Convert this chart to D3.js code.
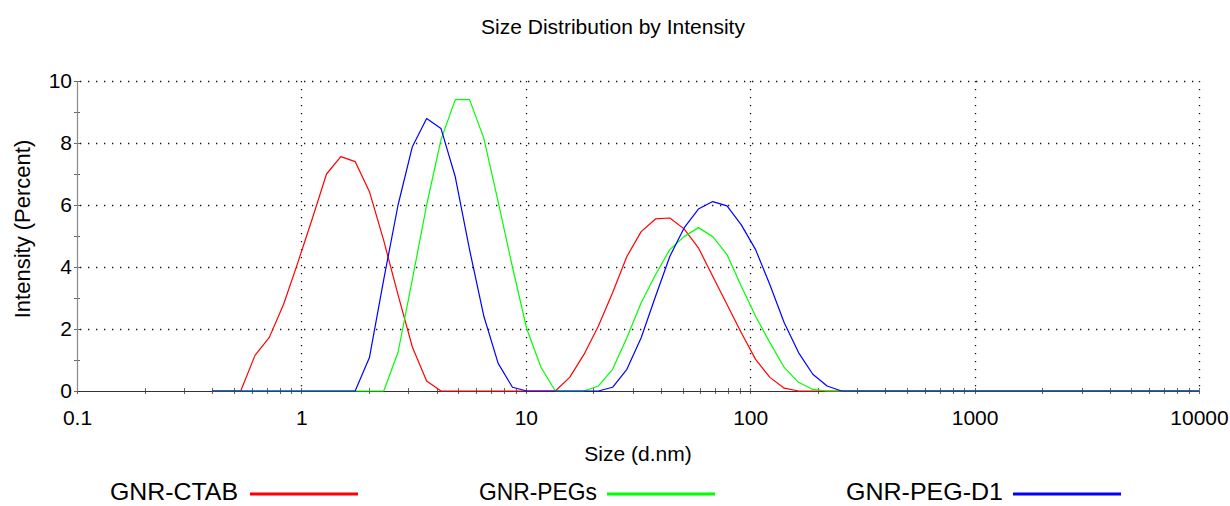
<!DOCTYPE html>
<html>
<head>
<meta charset="utf-8">
<script src="https://cdn.jsdelivr.net/npm/d3@7"></script>
<style>
  html, body { margin: 0; padding: 0; background: #fff; }
  svg { display: block; }
  text { font-family: 'Liberation Sans', Arial, sans-serif; fill: #000; }
</style>
</head>
<body>
<div id="chart"></div>
<script>
// size classes (d.nm), log spaced
const sizes = [
  0.4, 0.4632, 0.5365, 0.6213, 0.7195, 0.8332, 0.9649, 1.117, 1.294, 1.499,
  1.736, 2.01, 2.328, 2.696, 3.122, 3.615, 4.187, 4.849, 5.615, 6.503,
  7.531, 8.721, 10.1, 11.7, 13.54, 15.69, 18.17, 21.04, 24.36, 28.21,
  32.67, 37.84, 43.82, 50.75, 58.77, 68.06, 78.82, 91.28, 105.7, 122.4,
  141.8, 164.2, 190.1, 220.2, 255.0, 295.3, 342.0, 396.1, 458.7, 531.2,
  615.1, 712.4, 825.0, 955.4, 1106, 1281, 1484, 1718, 1990, 2305,
  2669, 3091, 3580, 4145, 4801, 5560, 6439, 7456, 8635, 10000
];

// intensity (%) per size class
const ctab = [
  0, 0, 0, 1.15, 1.73, 2.8, 4.15, 5.55, 7.0, 7.56,
  7.4, 6.43, 4.85, 3.1, 1.42, 0.32, 0, 0, 0, 0,
  0, 0, 0, 0, 0, 0.44, 1.18, 2.09, 3.17, 4.34,
  5.14, 5.55, 5.58, 5.23, 4.62, 3.7, 2.79, 1.88, 1.02, 0.44,
  0.09, 0, 0, 0, 0, 0, 0, 0, 0, 0,
  0, 0, 0, 0, 0, 0, 0, 0, 0, 0,
  0, 0, 0, 0, 0, 0, 0, 0, 0, 0
];
const pegs = [
  0, 0, 0, 0, 0, 0, 0, 0, 0, 0,
  0, 0, 0, 1.25, 3.6, 6.0, 8.1, 9.4, 9.4, 8.15,
  6.1, 4.0, 2.0, 0.76, 0, 0, 0, 0.16, 0.7, 1.72,
  2.85, 3.75, 4.56, 4.98, 5.27, 4.98, 4.4, 3.38, 2.41, 1.56,
  0.76, 0.28, 0.05, 0, 0, 0, 0, 0, 0, 0,
  0, 0, 0, 0, 0, 0, 0, 0, 0, 0,
  0, 0, 0, 0, 0, 0, 0, 0, 0, 0
];
const pegD1 = [
  0, 0, 0, 0, 0, 0, 0, 0, 0, 0,
  0, 1.08, 3.6, 6.0, 7.88, 8.79, 8.47, 6.91, 4.56, 2.41,
  0.89, 0.12, 0, 0, 0, 0, 0, 0, 0.12, 0.7,
  1.72, 3.05, 4.34, 5.26, 5.87, 6.11, 5.97, 5.36, 4.56, 3.43,
  2.2, 1.24, 0.54, 0.16, 0, 0, 0, 0, 0, 0,
  0, 0, 0, 0, 0, 0, 0, 0, 0, 0,
  0, 0, 0, 0, 0, 0, 0, 0, 0, 0
];

const seriesNames = ['GNR-CTAB', 'GNR-PEGs', 'GNR-PEG-D1'];
const seriesColors = ['#ff0000', '#00ff00', '#0000ff'];
const xTicks = [0.1, 1, 10, 100, 1000, 10000];
const yTicks = [0, 2, 4, 6, 8, 10];

const width = 1230;
const height = 506;
const margin = { top: 81, right: 31, bottom: 115, left: 77 };
const innerW = width - margin.left - margin.right;
const innerH = height - margin.top - margin.bottom;

const svg = d3.select('#chart').append('svg')
  .attr('width', width)
  .attr('height', height);

const x = d3.scaleLog().domain([0.1, 10000]).range([0, innerW]);
const y = d3.scaleLinear().domain([0, 10]).range([innerH, 0]);

const g = svg.append('g')
  .attr('transform', `translate(${margin.left},${margin.top})`);

// dotted grid
const grid = g.append('g')
  .attr('stroke', '#111')
  .attr('stroke-width', 1.3)
  .attr('stroke-dasharray', '1.3,6.7');

grid.selectAll('.hgrid')
  .data(yTicks.filter((d) => d > 0))
  .join('line')
  .attr('x1', 3)
  .attr('x2', innerW)
  .attr('y1', (d) => Math.round(y(d)) + 0.5)
  .attr('y2', (d) => Math.round(y(d)) + 0.5);

grid.selectAll('.vgrid')
  .data(xTicks.filter((d) => d > 0.1))
  .join('line')
  .attr('x1', (d) => Math.round(x(d)) + 0.5)
  .attr('x2', (d) => Math.round(x(d)) + 0.5)
  .attr('y1', 0)
  .attr('y2', innerH - 3);

// minor ticks
const xMinor = [];
xTicks.slice(0, -1).forEach((d) => {
  for (let m = 1; m < 10; m++) {
    xMinor.push(d * m);
  }
});
xMinor.push(10000);

g.append('g')
  .attr('stroke', '#666')
  .attr('stroke-width', 1)
  .selectAll('line')
  .data(xMinor)
  .join('line')
  .attr('x1', (d) => Math.round(x(d)) + 0.5)
  .attr('x2', (d) => Math.round(x(d)) + 0.5)
  .attr('y1', innerH - 3)
  .attr('y2', innerH + 3);

g.append('g')
  .attr('stroke', '#666')
  .attr('stroke-width', 1)
  .selectAll('line')
  .data(d3.range(0, 11))
  .join('line')
  .attr('x1', -3)
  .attr('x2', 3)
  .attr('y1', (d) => Math.round(y(d)) + 0.5)
  .attr('y2', (d) => Math.round(y(d)) + 0.5);

// axes
const xAxis = d3.axisBottom(x)
  .tickValues(xTicks)
  .tickFormat(d3.format('~g'))
  .tickSize(0)
  .tickPadding(19);

const yAxis = d3.axisLeft(y)
  .tickValues(yTicks)
  .tickFormat(d3.format('d'))
  .tickSize(0)
  .tickPadding(5);

const xAxisG = g.append('g')
  .attr('transform', `translate(0,${innerH})`)
  .call(xAxis);
xAxisG.select('.domain').attr('stroke', '#333').attr('stroke-width', 1.2);

const yAxisG = g.append('g').call(yAxis);
yAxisG.select('.domain').attr('stroke', '#888').attr('stroke-width', 1.2);

svg.selectAll('.tick text')
  .attr('font-family', "'Liberation Sans', Arial, sans-serif")
  .attr('font-size', 21)
  .attr('fill', '#000');

// curves
const line = d3.line()
  .x((d, i) => x(sizes[i]))
  .y((d) => y(d));

const seriesValues = [ctab, pegs, pegD1];

g.append('g')
  .selectAll('path')
  .data(seriesValues)
  .join('path')
  .attr('fill', 'none')
  .attr('stroke', (d, i) => seriesColors[i])
  .attr('stroke-width', 1.2)
  .attr('stroke-linejoin', 'round')
  .attr('d', line);

// titles
svg.append('text')
  .attr('x', 613)
  .attr('y', 34)
  .attr('text-anchor', 'middle')
  .attr('font-size', 21)
  .text('Size Distribution by Intensity');

svg.append('text')
  .attr('x', 638)
  .attr('y', 461)
  .attr('text-anchor', 'middle')
  .attr('font-size', 21)
  .text('Size (d.nm)');

svg.append('text')
  .attr('transform', 'translate(30,229) rotate(-90)')
  .attr('text-anchor', 'middle')
  .attr('font-size', 22)
  .text('Intensity (Percent)');

// legend
const legendTextX = [110, 479, 846];
const legendTextW = [128, 118, 157];
const legendLineX = [250, 607, 1013];
const legend = svg.append('g');

seriesNames.forEach((name, i) => {
  const item = legend.append('g');
  item.append('text')
    .attr('x', legendTextX[i])
    .attr('y', 500)
    .attr('font-size', 24)
    .attr('textLength', legendTextW[i])
    .attr('lengthAdjust', 'spacingAndGlyphs')
    .text(name);
  item.append('line')
    .attr('x1', legendLineX[i])
    .attr('x2', legendLineX[i] + 108)
    .attr('y1', 494)
    .attr('y2', 494)
    .attr('stroke', seriesColors[i])
    .attr('stroke-width', 3);
});
</script>
</body>
</html>
